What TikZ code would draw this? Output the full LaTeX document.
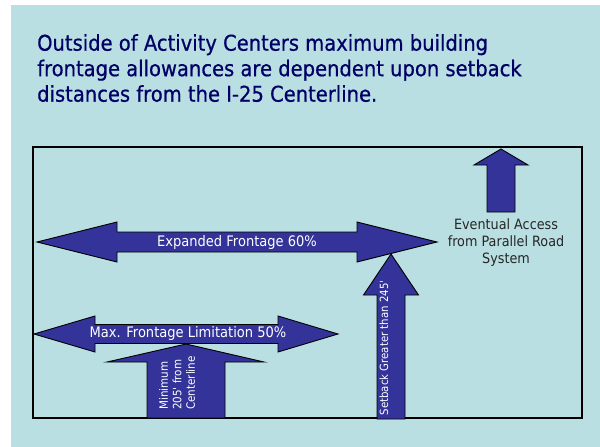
\documentclass[tikz,border=0pt]{standalone}
\usepackage{fontspec}
\usepackage{tikz}
\newfontfamily\tahomalike{DejaVu Sans}[FakeStretch=0.9]
\newfontfamily\headingfont{DejaVu Sans}[FakeStretch=0.9, FakeBold=0.6]
\definecolor{bgteal}{HTML}{B9DFE2}
\definecolor{arrowblue}{HTML}{333399}
\definecolor{titlenavy}{HTML}{000066}
\tikzstyle{blockarrow} = [draw=black, fill=arrowblue, line width=0.9pt, line join=miter]
\tikzstyle{arrowtext} = [text=white, font=\tahomalike\fontsize{14.5}{16}\selectfont, inner sep=0pt]
\tikzstyle{sidetext} = [text=black!85, font=\tahomalike\fontsize{14.2}{17}\selectfont, align=center, inner sep=0pt]

\begin{document}
\begin{tikzpicture}[x=1pt, y=-1pt]
    \useasboundingbox (0,0) rectangle (600,447);
    \fill[bgteal] (11,5) rectangle (600,447);
    % heading
    \node[anchor=north west, inner sep=0pt, text=titlenavy, align=left,
          font=\headingfont\fontsize{21.7}{25.5}\selectfont] (title) at (37,34)
        {Outside of Activity Centers maximum building\\
         frontage allowances are dependent upon setback\\
         distances from the I-25 Centerline.};
    % frame
    \draw[line width=1.3pt] (33,147) rectangle (582,418);
    % arrows
    \filldraw[blockarrow] (37,242) -- (117,222) -- (117,232) -- (357,232) -- (357,222)
        -- (437,242) -- (357,262) -- (357,252) -- (117,252) -- (117,262) -- cycle;
    \filldraw[blockarrow] (34,334) -- (95,316) -- (95,324.5) -- (278,324.5) -- (278,316)
        -- (338,334) -- (278,352) -- (278,343.5) -- (95,343.5) -- (95,352) -- cycle;
    \filldraw[blockarrow] (186,344) -- (264,362) -- (225,362) -- (225,418) -- (147,418)
        -- (147,362) -- (107,362) -- cycle;
    \filldraw[blockarrow] (391,254) -- (418.5,295) -- (405,295) -- (405,419) -- (377,419)
        -- (377,295) -- (363.5,295) -- cycle;
    \filldraw[blockarrow] (501,149) -- (528,165) -- (515,165) -- (515,212) -- (487,212)
        -- (487,165) -- (474,165) -- cycle;
    % labels
    \node[arrowtext] (expanded) at (237,242) {Expanded Frontage 60\%};
    \node[arrowtext] (maxfront) at (188,333) {Max. Frontage Limitation 50\%};
    \node[arrowtext, rotate=90, align=left, font=\tahomalike\fontsize{11.5}{13.5}\selectfont]
        (minimum) at (177,383) {Minimum\\205' from\\Centerline};
    \node[arrowtext, rotate=90, font=\tahomalike\fontsize{11.3}{12}\selectfont] (setback)
        at (384,348) {Setback Greater than 245'};
    \node[sidetext] (access) at (506,243) {Eventual Access\\from Parallel Road\\System};
\end{tikzpicture}
\end{document}
